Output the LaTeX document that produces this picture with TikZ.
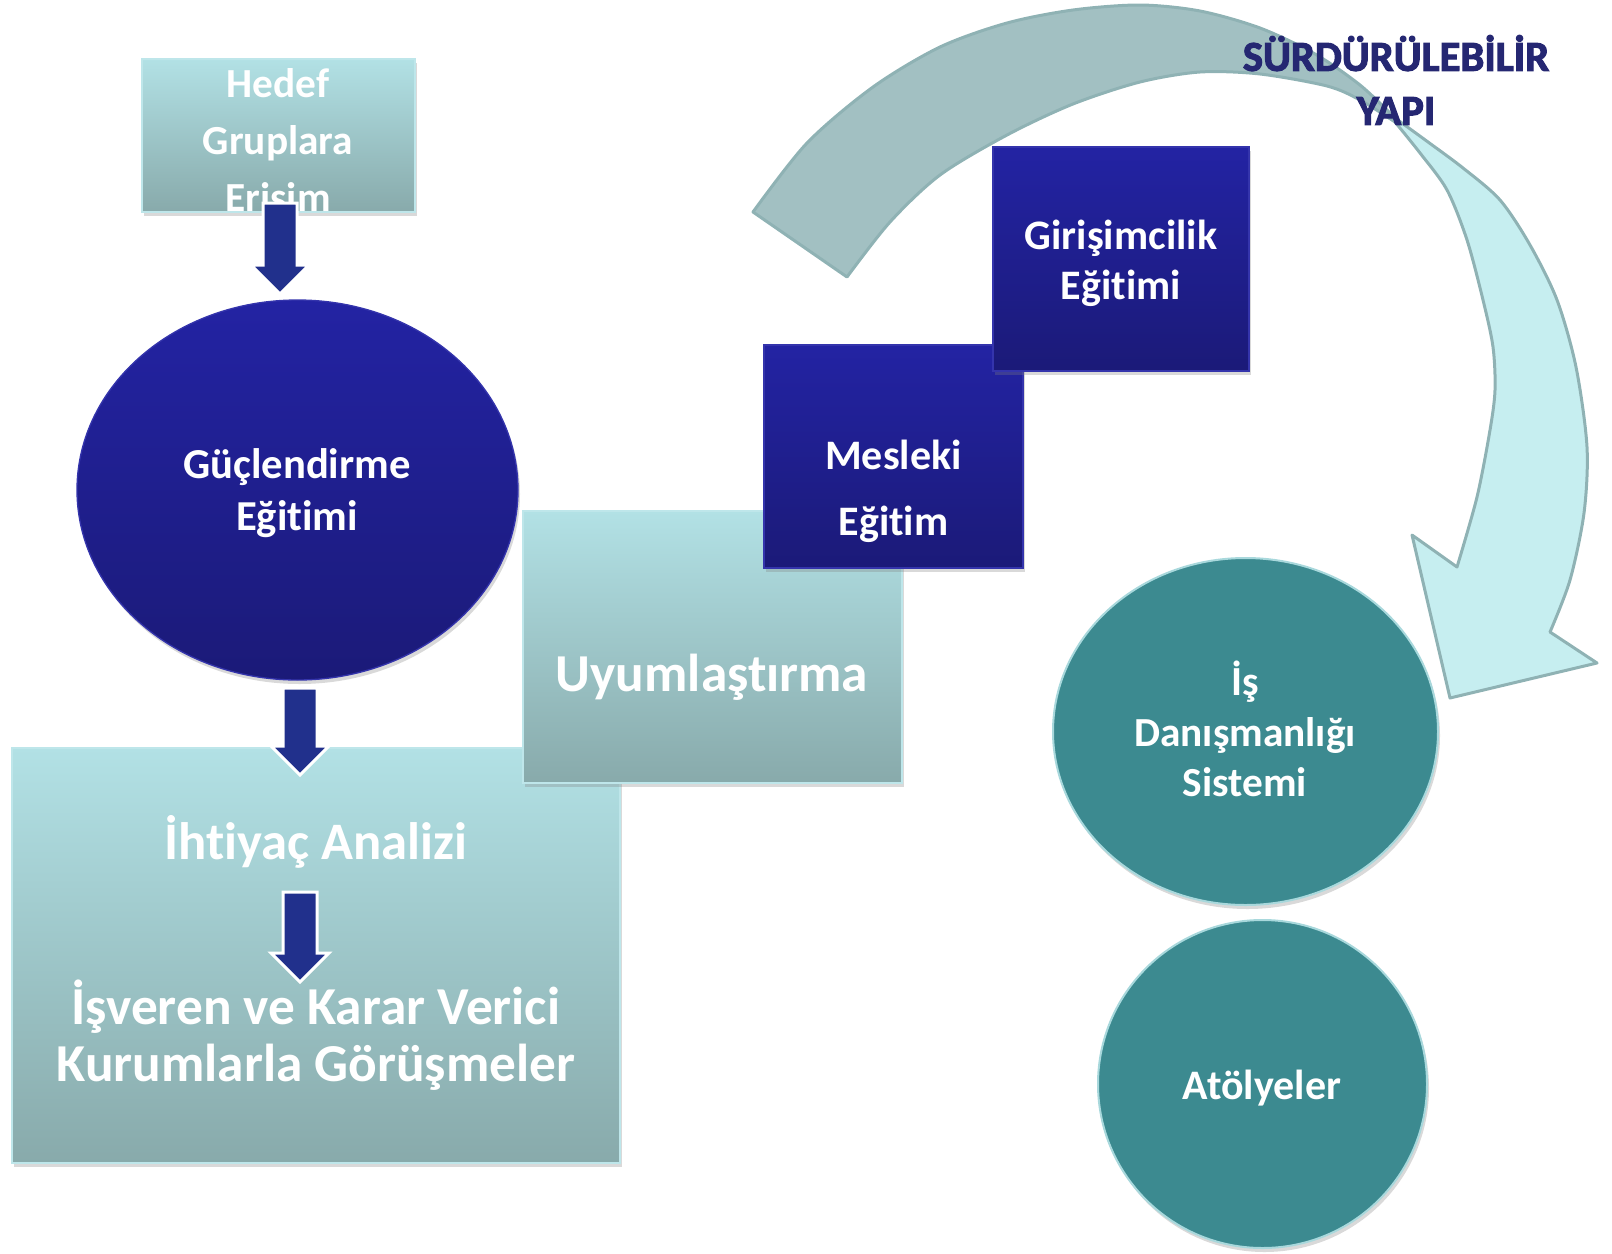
\documentclass[tikz,border=0pt]{standalone}
\usepackage{fontspec}
\setmainfont{Carlito}[Ligatures=NoCommon]
\newfontfamily\heavyfont[FakeBold=2.5,Ligatures=NoCommon]{Carlito}
\usetikzlibrary{shapes.geometric,shadows,calc}

\definecolor{paleteal}{RGB}{178,225,229}
\definecolor{greyteal}{RGB}{136,170,171}
\definecolor{boxrim}{RGB}{190,230,234}
\definecolor{navytop}{RGB}{35,35,163}
\definecolor{navybot}{RGB}{27,26,120}
\definecolor{navyrim}{RGB}{52,52,172}
\definecolor{arrowblue}{RGB}{33,48,140}
\definecolor{circteal}{RGB}{60,138,144}
\definecolor{circrim}{RGB}{168,216,220}
\definecolor{ribbongrey}{RGB}{162,192,194}
\definecolor{ribboncyan}{RGB}{198,238,240}
\definecolor{ribbonedge}{RGB}{143,178,180}
\definecolor{titlenavy}{RGB}{37,39,114}

\tikzset{every picture/.style={line width=0.75pt}}
\tikzset{
  softshadow/.style={drop shadow={shadow xshift=1.5pt,shadow yshift=-3pt,opacity=0.3}},
  lightbox/.style={draw=boxrim,line width=1.5pt,top color=paleteal,bottom color=greyteal,softshadow,inner sep=0pt},
  navybox/.style={draw=navyrim,line width=1pt,top color=navytop,bottom color=navybot,softshadow,inner sep=0pt},
  navyoval/.style={navybox,ellipse},
  tealoval/.style={ellipse,draw=circrim,line width=1.5pt,fill=circteal,softshadow,inner sep=0pt},
  boxtext/.style 2 args={text=white,align=center,inner sep=0pt,font=\fontsize{#1}{#2}\selectfont\bfseries},
  blockarrow/.style={draw=white,line width=2.25pt,fill=arrowblue,line join=miter},
  ribbon/.style={draw=ribbonedge,line width=2.25pt,line join=round}
}

\begin{document}
\begin{tikzpicture}[x=0.75pt,y=0.75pt,yscale=-1,xscale=1]
\useasboundingbox (0,0) rectangle (1612,1253);

%Curved Arrow - back side
\draw [ribbon,fill=ribbongrey] plot [smooth] coordinates {(753,212) (807,143) (873,87) (940,47) (1007,23) (1073,10) (1140,5) (1200,11) (1260,28) (1315,54) (1360,85) (1395,118)} -- plot [smooth] coordinates {(1395,122) (1360,100) (1327,86) (1260,74) (1200,72) (1140,82) (1073,104) (1007,135) (940,175) (890,222) (847,277)} -- cycle ;
%Curved Arrow - front side
\draw [ribbon,fill=ribboncyan] plot [smooth] coordinates {(1395,118) (1428,142) (1463,168) (1500,200) (1530,245) (1557,300) (1576,367) (1587,447) (1584,513) (1570,580) (1550,632)} -- (1597,663) -- (1450,698) -- (1412,535) -- plot [smooth] coordinates {(1457,567) (1477,497) (1490,430) (1495,390) (1493,347) (1483,300) (1467,240) (1447,190) (1420,153) (1395,122)} -- cycle ;

%Shape: Rectangle
\node [lightbox,minimum width=204.75pt,minimum height=114.75pt] (hedef) at (278.5,135.5) {};
%Shape: Ellipse
\node [navyoval,minimum width=330.75pt,minimum height=285pt] (guc) at (297.5,490) {};
%Shape: Rectangle
\node [lightbox,minimum width=456pt,minimum height=311.25pt] (ihtiyac) at (316,955.5) {};
%Shape: Rectangle
\node [lightbox,minimum width=284.25pt,minimum height=204pt] (uyum) at (712.5,647) {};
%Shape: Rectangle
\node [navybox,minimum width=194.25pt,minimum height=167.25pt] (mesleki) at (893.5,456.5) {};
%Shape: Rectangle
\node [navybox,minimum width=192pt,minimum height=168pt] (girisim) at (1121,259) {};
%Shape: Circle
\node [tealoval,minimum width=288.75pt,minimum height=260.25pt] (isdan) at (1245.5,731.5) {};
%Shape: Circle
\node [tealoval,minimum width=246.75pt,minimum height=246pt] (atolye) at (1262.5,1084) {};

% Text Node
\node [boxtext={31}{43}] (hedeftxt) at (278,140) {Hedef\\Gruplara\\Erisim};
% Text Node
\node [boxtext={32}{39}] (guctxt) at (297,493) {Güçlendirme\\Eğitimi};
% Text Node
\node [boxtext={39.5}{43}] (ihtiyactxt) at (316,842) {İhtiyaç Analizi};
% Text Node
\node [boxtext={40}{43}] (isverentxt) at (316,1035) {İşveren ve Karar Verici\\Kurumlarla Görüşmeler};
% Text Node
\node [boxtext={40}{44}] (uyumtxt) at (712,677) {Uyumlaştırma};
% Text Node
\node [boxtext={31.5}{49.5}] (meslekitxt) at (893.5,491) {Mesleki\\Eğitim};
% Text Node
\node [boxtext={31.5}{37.5}] (girisimtxt) at (1121,263) {Girişimcilik\\Eğitimi};
% Text Node
\node [boxtext={31}{38}] (isdantxt) at (1245,729) {İş\\Danışmanlığı\\Sistemi};
% Text Node
\node [boxtext={31.5}{38}] (atolyetxt) at (1262,1088) {Atölyeler};

%Down Arrows
\coordinate (a1top) at (280,203);
\coordinate (a1tip) at (280,294);
\coordinate (a2top) at (300,688);
\coordinate (a2tip) at (300,775);
\coordinate (a3top) at (300,892);
\coordinate (a3tip) at (300,982);
\draw [blockarrow] (a1tip) -- ++(-29,-29) -- ++(12,0) |- (a1top) -- ++(17,0) -- ($(a1tip)+(17,-29)$) -- ++(12,0) -- cycle ;
\draw [blockarrow] (a2tip) -- ++(-29,-29) -- ++(12,0) |- (a2top) -- ++(17,0) -- ($(a2tip)+(17,-29)$) -- ++(12,0) -- cycle ;
\draw [blockarrow] (a3tip) -- ++(-29,-29) -- ++(12,0) |- (a3top) -- ++(17,0) -- ($(a3tip)+(17,-29)$) -- ++(12,0) -- cycle ;

% Text Node
\node [text=titlenavy,align=center,inner sep=0pt,font=\fontsize{32}{40.5}\selectfont\heavyfont\bfseries] (surdur) at (1396,80) {SÜRDÜRÜLEBİLİR\\YAPI};

\end{tikzpicture}
\end{document}
